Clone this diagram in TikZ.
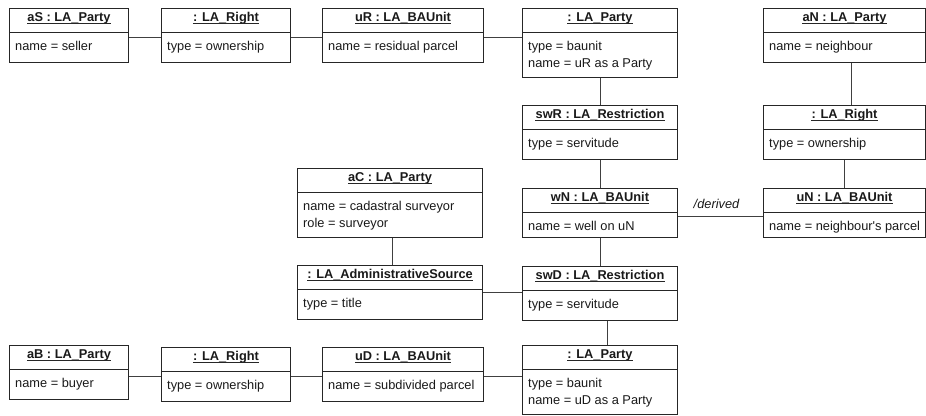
\documentclass[tikz,border=0pt]{standalone}
\usepackage{fontspec}
\setmainfont{Liberation Sans}

\tikzset{
	objbox/.style={draw=black!85, line width=1pt, inner sep=0pt, anchor=north west},
	objtext/.style={inner sep=0pt, text=black!90, font=\fontsize{12.8}{17}\selectfont},
	objhead/.style={objtext, anchor=north, font=\fontsize{12.8}{17}\selectfont\bfseries},
	objlink/.style={draw=black!75, line width=1pt},
}

% #1 name, #2 left, #3 top, #4 width, #5 height, #6 header, #7 attributes
\newcommand{\objbox}[7]{%
	\node[objbox, minimum width=#4pt, minimum height=#5pt] (#1) at (#2,#3) {};
	\node[objhead] (#1-h) at ([yshift=-1.5pt]#1.north) {\rule{0pt}{12pt}#6};
	\draw[black!85, line width=0.7pt] ([yshift=-1.8pt]#1-h.base west) -- ([yshift=-1.8pt]#1-h.base east);
	\draw[black!85, line width=1pt] ([yshift=-24pt]#1.north west) -- ([yshift=-24pt]#1.north east);
	\node[objtext, anchor=north west, align=left] (#1-b) at ([xshift=6pt,yshift=-30pt]#1.north west) {\rule{0pt}{12pt}#7};
}

\begin{document}
\begin{tikzpicture}[x=1pt, y=-1pt]
	\useasboundingbox (0,0) rectangle (926,415);

	\objbox{aS}{9}{8}{119}{54}{aS : LA\_Party}{name = seller}
	\objbox{rS}{161}{8}{129}{54}{: LA\_Right}{type = ownership}
	\objbox{uR}{322}{8}{161}{54}{uR : LA\_BAUnit}{name = residual parcel}
	\objbox{pR}{522}{8}{155}{69}{: LA\_Party}{type = baunit\\name = uR as a Party}
	\objbox{aN}{763}{8}{162}{54}{aN : LA\_Party}{name = neighbour}
	\objbox{swR}{522}{105}{155}{54}{swR : LA\_Restriction}{type = servitude}
	\objbox{rN}{763}{105}{162}{54}{: LA\_Right}{type = ownership}
	\objbox{aC}{297}{168}{185}{69}{aC : LA\_Party}{name = cadastral surveyor\\role = surveyor}
	\objbox{wN}{522}{188}{155}{49}{wN : LA\_BAUnit}{name = well on uN}
	\objbox{uN}{763}{188}{162}{49}{uN : LA\_BAUnit}{name = neighbour\textquotesingle s parcel}
	\objbox{src}{297}{265}{185}{54}{: LA\_AdministrativeSource}{type = title}
	\objbox{swD}{522}{266}{155}{54}{swD : LA\_Restriction}{type = servitude}
	\objbox{aB}{9}{345}{119}{54}{aB : LA\_Party}{name = buyer}
	\objbox{rB}{161}{347}{129}{54}{: LA\_Right}{type = ownership}
	\objbox{uD}{322}{347}{161}{54}{uD : LA\_BAUnit}{name = subdivided parcel}
	\objbox{pD}{522}{345}{155}{69}{: LA\_Party}{type = baunit\\name = uD as a Party}

	\draw[objlink] ([yshift=-2pt]aS.east) -- ([yshift=-2pt]rS.west);
	\draw[objlink] ([yshift=-2pt]rS.east) -- ([yshift=-2pt]uR.west);
	\draw[objlink] ([yshift=-2pt]uR.east) -- ([yshift=-2pt]uR.east -| pR.west);
	\draw[objlink] (pR.south) -- (swR.north);
	\draw[objlink] (swR.south) -- (wN.north);
	\draw[objlink] (wN.south) -- (swD.north);
	\draw[objlink] ([xshift=7pt]swD.south) -- ([xshift=7pt]pD.north);
	\draw[objlink] ([xshift=7pt]aN.south) -- ([xshift=7pt]rN.north);
	\draw[objlink] (rN.south) -- (uN.north);
	\draw[objlink] ([yshift=-3.5pt]wN.east) -- ([yshift=-3.5pt]uN.west)
		node[objtext, midway, anchor=base, xshift=-4pt, yshift=8pt, font=\fontsize{12.8}{17}\selectfont\itshape] (drv) {/derived};
	\draw[objlink] ([xshift=2.5pt]aC.south) -- ([xshift=2.5pt]src.north);
	\draw[objlink] (src.east) -- (src.east -| swD.west);
	\draw[objlink] ([yshift=-2pt]rB.west -| aB.east) -- ([yshift=-2pt]rB.west);
	\draw[objlink] ([yshift=-2pt]rB.east) -- ([yshift=-2pt]rB.east -| uD.west);
	\draw[objlink] ([yshift=-1.5pt]uD.east) -- ([yshift=-1.5pt]uD.east -| pD.west);
\end{tikzpicture}
\end{document}
